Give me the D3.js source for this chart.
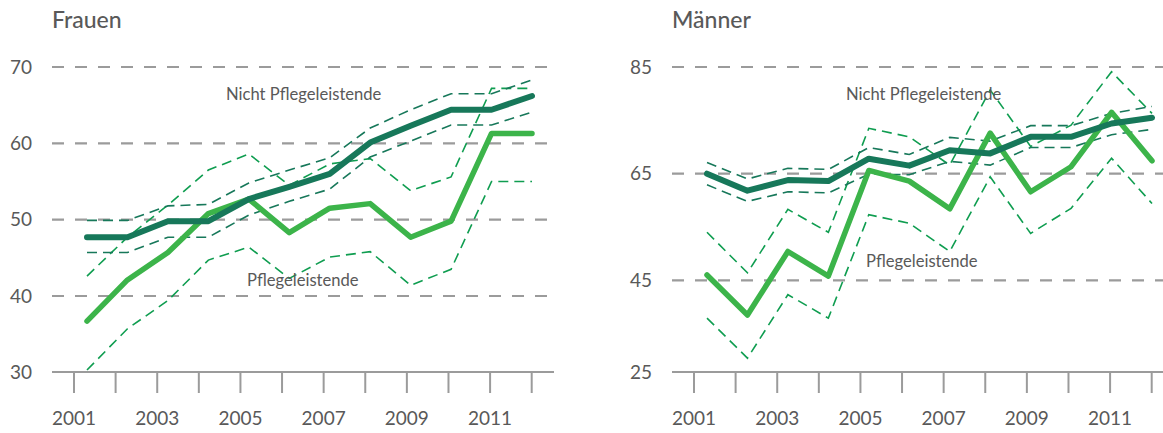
<!DOCTYPE html>
<html>
<head>
<meta charset="utf-8">
<script src="https://cdn.jsdelivr.net/npm/d3@7"></script>
<style>
  body { margin: 0; background: #fff; }
  text { font-family: Lato, "Open Sans", sans-serif; fill: #595959; }
</style>
</head>
<body>
<div id="viz"></div>
<script>
// years on the x axis
let years = [2001, 2002, 2003, 2004, 2005, 2006, 2007, 2008, 2009, 2010, 2011, 2012];
let yearLabels = [2001, 2003, 2005, 2007, 2009, 2011];

// Frauen: Nicht Pflegeleistende (mean + confidence band)
let frauenNicht     = [47.7, 47.7, 49.8, 49.8, 52.7, 54.3, 56.0, 60.1, 62.3, 64.4, 64.4, 66.2];
let frauenNichtHigh = [49.9, 49.9, 51.8, 52.0, 54.8, 56.5, 58.1, 62.0, 64.4, 66.5, 66.5, 68.3];
let frauenNichtLow  = [45.7, 45.7, 47.7, 47.7, 50.6, 52.4, 54.0, 58.2, 60.3, 62.4, 62.4, 64.1];
// Frauen: Pflegeleistende
let frauenPflege     = [36.7, 42.1, 45.7, 50.8, 52.7, 48.3, 51.5, 52.1, 47.7, 49.8, 61.3, 61.3];
let frauenPflegeHigh = [42.6, 47.7, 51.9, 56.5, 58.6, 54.5, 57.3, 58.0, 53.8, 55.6, 67.2, 67.2];
let frauenPflegeLow  = [30.3, 35.7, 39.4, 44.7, 46.4, 42.3, 45.1, 45.8, 41.4, 43.5, 55.0, 55.0];

// Männer: Nicht Pflegeleistende
let maennerNicht     = [65.0, 61.8, 63.8, 63.6, 67.8, 66.5, 69.4, 68.8, 71.9, 71.9, 74.4, 75.5];
let maennerNichtHigh = [67.1, 64.0, 66.0, 65.8, 69.9, 68.6, 71.8, 71.1, 74.0, 74.0, 76.3, 77.6];
let maennerNichtLow  = [62.9, 59.8, 61.6, 61.4, 64.9, 64.8, 67.3, 66.6, 69.9, 69.9, 72.3, 73.3];
// Männer: Pflegeleistende
let maennerPflege     = [46.0, 38.5, 50.4, 45.8, 65.6, 63.6, 58.4, 72.6, 61.6, 66.3, 76.5, 67.4];
let maennerPflegeHigh = [54.0, 46.4, 58.3, 54.0, 73.5, 71.9, 66.6, 80.7, 70.1, 74.1, 84.1, 76.3];
let maennerPflegeLow  = [37.9, 30.4, 42.3, 37.9, 57.3, 55.7, 50.4, 64.4, 53.8, 58.5, 67.9, 59.4];

let frauenTicks = [70, 60, 50, 40];
let maennerTicks = [85, 65, 45];

let colors = { nicht: "#17785a", pflege: "#3cb44a", band: "#0f9d50", grid: "#9b9b9b" };

let width = 1163, height = 433;

let svg = d3.select("#viz")
  .append("svg")
    .attr("width", width)
    .attr("height", height);

function buildPanel(offsetX, title, yDomain, yRange, gridTicks, bottomLabel, series, labelPos) {
  let g = svg.append("g")
    .attr("transform", "translate(" + offsetX + ",0)");

  let plotLeft = 52, gridRight = 549, axisRight = 554, axisY = 372;

  // x scales: ticks sit on the band edges, points a little apart
  let xTick = d3.scaleLinear().domain([2001, 2012]).range([74, 531.7]);
  let xPoint = d3.scaleLinear().domain([2001, 2012]).range([87, 532]);
  let yScale = d3.scaleLinear().domain(yDomain).range(yRange);

  // title
  g.append("text")
    .attr("x", plotLeft)
    .attr("y", 28)
    .style("font-size", "23px")
    .style("font-weight", 500)
    .text(title);

  // dashed gridlines
  g.selectAll(".grid")
    .data(gridTicks)
    .enter().append("line")
      .attr("x1", plotLeft).attr("x2", gridRight)
      .attr("y1", d => yScale(d)).attr("y2", d => yScale(d))
      .style("stroke", colors.grid)
      .style("stroke-width", 2.2)
      .style("stroke-dasharray", "12,11");

  // y labels
  g.selectAll(".ylab")
    .data(gridTicks)
    .enter().append("text")
      .attr("x", plotLeft - 20)
      .attr("y", d => yScale(d))
      .attr("dy", "0.35em")
      .attr("text-anchor", "end")
      .style("font-size", "19px")
      .text(d => d);
  g.append("text")
    .attr("x", plotLeft - 20)
    .attr("y", axisY)
    .attr("dy", "0.35em")
    .attr("text-anchor", "end")
    .style("font-size", "19px")
    .text(bottomLabel);

  // bottom axis with ticks
  g.append("line")
    .attr("x1", plotLeft).attr("x2", axisRight)
    .attr("y1", axisY).attr("y2", axisY)
    .style("stroke", colors.grid)
    .style("stroke-width", 2);
  g.selectAll(".tick")
    .data(years)
    .enter().append("line")
      .attr("x1", d => xTick(d)).attr("x2", d => xTick(d))
      .attr("y1", axisY).attr("y2", axisY + 21)
      .style("stroke", colors.grid)
      .style("stroke-width", 2);
  g.selectAll(".xlab")
    .data(yearLabels)
    .enter().append("text")
      .attr("x", d => xTick(d))
      .attr("y", 425)
      .attr("text-anchor", "middle")
      .style("font-size", "19px")
      .text(d => d);

  let line = d3.line()
    .x((d, i) => xPoint(years[i]))
    .y(d => yScale(d));

  // confidence bands first, then the main lines
  series.forEach(s => {
    [s.high, s.low].forEach(vals => {
      g.append("path")
        .datum(vals)
        .attr("d", line)
        .style("fill", "none")
        .style("stroke", s.bandColor)
        .style("stroke-width", 1.6)
        .style("stroke-dasharray", "10,6");
    });
  });
  series.forEach(s => {
    g.append("path")
      .datum(s.mean)
      .attr("d", line)
      .style("fill", "none")
      .style("stroke", s.color)
      .style("stroke-width", s.width)
      .style("stroke-linejoin", "round")
      .style("stroke-linecap", "round");
  });

  // series labels
  g.append("text")
    .attr("x", 226).attr("y", 100)
    .style("font-size", "16.6px")
    .text("Nicht Pflegeleistende");
  g.append("text")
    .attr("x", labelPos).attr("y", offsetX ? 267 : 286)
    .style("font-size", "16.6px")
    .text("Pflegeleistende");
}

buildPanel(0, "Frauen", [70, 30], [67, 372.3], frauenTicks, "30", [
  { mean: frauenPflege, high: frauenPflegeHigh, low: frauenPflegeLow, color: colors.pflege, bandColor: colors.band, width: 5.5 },
  { mean: frauenNicht, high: frauenNichtHigh, low: frauenNichtLow, color: colors.nicht, bandColor: colors.nicht, width: 6 }
], 247);

buildPanel(620, "Männer", [85, 45], [67, 280.3], maennerTicks, "25", [
  { mean: maennerPflege, high: maennerPflegeHigh, low: maennerPflegeLow, color: colors.pflege, bandColor: colors.band, width: 5.5 },
  { mean: maennerNicht, high: maennerNichtHigh, low: maennerNichtLow, color: colors.nicht, bandColor: colors.nicht, width: 6 }
], 246);
</script>
</body>
</html>
